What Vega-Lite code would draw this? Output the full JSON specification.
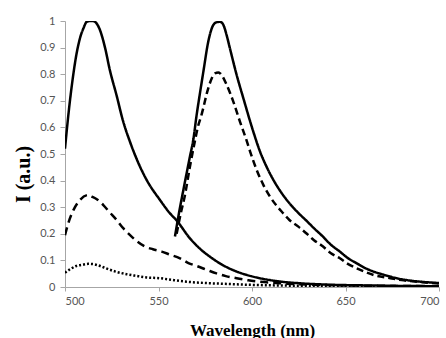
{
  "$schema": "https://vega.github.io/schema/vega-lite/v6.json",
  "autosize": "none",
  "width": 374,
  "height": 266,
  "padding": {"left": 65, "top": 21, "right": 7, "bottom": 51},
  "background": "white",
  "config": {"view": {"stroke": null}},
  "datasets": {
    "spectra": [
      {"s": "A", "nm": 500, "v": 0.52}, {"s": "A", "nm": 502, "v": 0.66}, {"s": "A", "nm": 504.4, "v": 0.797}, {"s": "A", "nm": 506, "v": 0.87}, {"s": "A", "nm": 508, "v": 0.935}, {"s": "A", "nm": 510, "v": 0.975}, {"s": "A", "nm": 511.6, "v": 0.997}, {"s": "A", "nm": 513.5, "v": 1.0}, {"s": "A", "nm": 515, "v": 1.0}, {"s": "A", "nm": 517, "v": 0.99}, {"s": "A", "nm": 518.7, "v": 0.966}, {"s": "A", "nm": 521.4, "v": 0.9}, {"s": "A", "nm": 524, "v": 0.815}, {"s": "A", "nm": 527.6, "v": 0.72}, {"s": "A", "nm": 531, "v": 0.625}, {"s": "A", "nm": 534.8, "v": 0.545}, {"s": "A", "nm": 539, "v": 0.47}, {"s": "A", "nm": 543.7, "v": 0.402}, {"s": "A", "nm": 550.8, "v": 0.327}, {"s": "A", "nm": 556, "v": 0.278}, {"s": "A", "nm": 559.7, "v": 0.25}, {"s": "A", "nm": 566.8, "v": 0.183}, {"s": "A", "nm": 572, "v": 0.145}, {"s": "A", "nm": 577.5, "v": 0.114}, {"s": "A", "nm": 585, "v": 0.08}, {"s": "A", "nm": 591.8, "v": 0.058}, {"s": "A", "nm": 600, "v": 0.04}, {"s": "A", "nm": 609.6, "v": 0.026}, {"s": "A", "nm": 617, "v": 0.019}, {"s": "A", "nm": 625.7, "v": 0.014}, {"s": "A", "nm": 640, "v": 0.009}, {"s": "A", "nm": 660, "v": 0.006}, {"s": "A", "nm": 680, "v": 0.004}, {"s": "A", "nm": 700, "v": 0.003},
      {"s": "B", "nm": 500, "v": 0.195}, {"s": "B", "nm": 502, "v": 0.245}, {"s": "B", "nm": 504.5, "v": 0.289}, {"s": "B", "nm": 508, "v": 0.327}, {"s": "B", "nm": 512.5, "v": 0.346}, {"s": "B", "nm": 514.3, "v": 0.34}, {"s": "B", "nm": 517, "v": 0.33}, {"s": "B", "nm": 520.5, "v": 0.308}, {"s": "B", "nm": 524, "v": 0.28}, {"s": "B", "nm": 527.6, "v": 0.252}, {"s": "B", "nm": 531, "v": 0.222}, {"s": "B", "nm": 534.8, "v": 0.195}, {"s": "B", "nm": 538.5, "v": 0.172}, {"s": "B", "nm": 542.8, "v": 0.152}, {"s": "B", "nm": 547, "v": 0.142}, {"s": "B", "nm": 551.7, "v": 0.133}, {"s": "B", "nm": 556, "v": 0.122}, {"s": "B", "nm": 561.5, "v": 0.108}, {"s": "B", "nm": 566, "v": 0.09}, {"s": "B", "nm": 570.4, "v": 0.079}, {"s": "B", "nm": 576, "v": 0.064}, {"s": "B", "nm": 581, "v": 0.051}, {"s": "B", "nm": 586, "v": 0.041}, {"s": "B", "nm": 591.8, "v": 0.033}, {"s": "B", "nm": 598, "v": 0.025}, {"s": "B", "nm": 604, "v": 0.02}, {"s": "B", "nm": 615, "v": 0.014}, {"s": "B", "nm": 630, "v": 0.009}, {"s": "B", "nm": 650, "v": 0.006}, {"s": "B", "nm": 675, "v": 0.004}, {"s": "B", "nm": 700, "v": 0.003},
      {"s": "C", "nm": 500, "v": 0.054}, {"s": "C", "nm": 503, "v": 0.068}, {"s": "C", "nm": 506, "v": 0.079}, {"s": "C", "nm": 509, "v": 0.083}, {"s": "C", "nm": 512.5, "v": 0.087}, {"s": "C", "nm": 515, "v": 0.086}, {"s": "C", "nm": 517, "v": 0.083}, {"s": "C", "nm": 519.5, "v": 0.077}, {"s": "C", "nm": 522, "v": 0.07}, {"s": "C", "nm": 527, "v": 0.058}, {"s": "C", "nm": 533, "v": 0.048}, {"s": "C", "nm": 538, "v": 0.042}, {"s": "C", "nm": 543.7, "v": 0.036}, {"s": "C", "nm": 550.8, "v": 0.033}, {"s": "C", "nm": 557, "v": 0.027}, {"s": "C", "nm": 565, "v": 0.02}, {"s": "C", "nm": 575, "v": 0.015}, {"s": "C", "nm": 585, "v": 0.012}, {"s": "C", "nm": 600, "v": 0.008}, {"s": "C", "nm": 620, "v": 0.005}, {"s": "C", "nm": 640, "v": 0.003}, {"s": "C", "nm": 670, "v": 0.002}, {"s": "C", "nm": 700, "v": 0.001},
      {"s": "D", "nm": 558.8, "v": 0.19}, {"s": "D", "nm": 561, "v": 0.28}, {"s": "D", "nm": 563.3, "v": 0.365}, {"s": "D", "nm": 566.8, "v": 0.49}, {"s": "D", "nm": 568.6, "v": 0.553}, {"s": "D", "nm": 570.4, "v": 0.647}, {"s": "D", "nm": 572.2, "v": 0.73}, {"s": "D", "nm": 574, "v": 0.81}, {"s": "D", "nm": 576.6, "v": 0.922}, {"s": "D", "nm": 579.3, "v": 0.985}, {"s": "D", "nm": 581, "v": 0.995}, {"s": "D", "nm": 582.9, "v": 0.997}, {"s": "D", "nm": 584.7, "v": 0.985}, {"s": "D", "nm": 586.5, "v": 0.945}, {"s": "D", "nm": 588.2, "v": 0.897}, {"s": "D", "nm": 591.8, "v": 0.797}, {"s": "D", "nm": 595.4, "v": 0.709}, {"s": "D", "nm": 600.7, "v": 0.584}, {"s": "D", "nm": 604.3, "v": 0.509}, {"s": "D", "nm": 607.8, "v": 0.452}, {"s": "D", "nm": 611, "v": 0.408}, {"s": "D", "nm": 615, "v": 0.362}, {"s": "D", "nm": 620, "v": 0.315}, {"s": "D", "nm": 625, "v": 0.277}, {"s": "D", "nm": 629, "v": 0.25}, {"s": "D", "nm": 633, "v": 0.222}, {"s": "D", "nm": 638, "v": 0.189}, {"s": "D", "nm": 642, "v": 0.16}, {"s": "D", "nm": 647, "v": 0.133}, {"s": "D", "nm": 651, "v": 0.11}, {"s": "D", "nm": 656, "v": 0.089}, {"s": "D", "nm": 660, "v": 0.073}, {"s": "D", "nm": 665, "v": 0.058}, {"s": "D", "nm": 670, "v": 0.047}, {"s": "D", "nm": 674, "v": 0.039}, {"s": "D", "nm": 678, "v": 0.032}, {"s": "D", "nm": 682.7, "v": 0.026}, {"s": "D", "nm": 690, "v": 0.02}, {"s": "D", "nm": 700, "v": 0.015},
      {"s": "E", "nm": 559.7, "v": 0.2}, {"s": "E", "nm": 562, "v": 0.28}, {"s": "E", "nm": 564, "v": 0.34}, {"s": "E", "nm": 566.8, "v": 0.452}, {"s": "E", "nm": 569.5, "v": 0.55}, {"s": "E", "nm": 571, "v": 0.6}, {"s": "E", "nm": 573, "v": 0.647}, {"s": "E", "nm": 576.6, "v": 0.747}, {"s": "E", "nm": 578.5, "v": 0.785}, {"s": "E", "nm": 580.2, "v": 0.803}, {"s": "E", "nm": 582, "v": 0.806}, {"s": "E", "nm": 583, "v": 0.803}, {"s": "E", "nm": 586.5, "v": 0.759}, {"s": "E", "nm": 590, "v": 0.697}, {"s": "E", "nm": 593.6, "v": 0.621}, {"s": "E", "nm": 597, "v": 0.553}, {"s": "E", "nm": 599, "v": 0.509}, {"s": "E", "nm": 602.5, "v": 0.44}, {"s": "E", "nm": 606, "v": 0.385}, {"s": "E", "nm": 609.6, "v": 0.34}, {"s": "E", "nm": 616.7, "v": 0.277}, {"s": "E", "nm": 620, "v": 0.252}, {"s": "E", "nm": 624.8, "v": 0.227}, {"s": "E", "nm": 629, "v": 0.202}, {"s": "E", "nm": 633, "v": 0.177}, {"s": "E", "nm": 638, "v": 0.152}, {"s": "E", "nm": 642, "v": 0.128}, {"s": "E", "nm": 647, "v": 0.108}, {"s": "E", "nm": 651, "v": 0.088}, {"s": "E", "nm": 656, "v": 0.07}, {"s": "E", "nm": 660, "v": 0.058}, {"s": "E", "nm": 665, "v": 0.045}, {"s": "E", "nm": 674, "v": 0.033}, {"s": "E", "nm": 680, "v": 0.026}, {"s": "E", "nm": 688, "v": 0.02}, {"s": "E", "nm": 700, "v": 0.013}
    ]
  },
  "data": {"name": "spectra"},
  "mark": {"type": "line", "color": "black", "strokeWidth": 2.5, "interpolate": "monotone", "clip": true},
  "encoding": {
    "x": {
      "field": "nm", "type": "quantitative",
      "scale": {"domain": [500, 700], "nice": false, "zero": false},
      "axis": {
        "values": [500, 550, 600, 650, 700], "grid": false,
        "title": "Wavelength (nm)", "titleFont": "Liberation Serif", "titleFontSize": 17, "titleFontWeight": "bold", "titleColor": "#000000",
        "titleY": 48, "titleBaseline": "alphabetic",
        "labelFont": "Lato", "labelFontSize": 11, "labelColor": "#555555", "labelPadding": 4,
        "domainColor": "#a6a6a6", "tickColor": "#a6a6a6", "tickSize": 4
      }
    },
    "y": {
      "field": "v", "type": "quantitative",
      "scale": {"domain": [0, 1], "nice": false},
      "axis": {
        "values": [0, 0.1, 0.2, 0.3, 0.4, 0.5, 0.6, 0.7, 0.8, 0.9, 1], "format": "~g", "grid": false,
        "title": "I (a.u.)", "titleFont": "Liberation Serif", "titleFontSize": 20, "titleFontWeight": "bold", "titleColor": "#000000",
        "titleX": -42, "titleY": 153, "titleAngle": -90, "titleAlign": "center", "titleBaseline": "middle",
        "labelFont": "Lato", "labelFontSize": 11, "labelColor": "#555555", "labelPadding": 5,
        "domainColor": "#a6a6a6", "tickColor": "#a6a6a6", "tickSize": 5
      }
    },
    "detail": {"field": "s"},
    "strokeDash": {
      "field": "s", "type": "nominal",
      "scale": {"domain": ["A", "B", "C", "D", "E"], "range": [[1, 0], [8, 5], [2, 2], [1, 0], [7, 4]]},
      "legend": null
    }
  }
}
